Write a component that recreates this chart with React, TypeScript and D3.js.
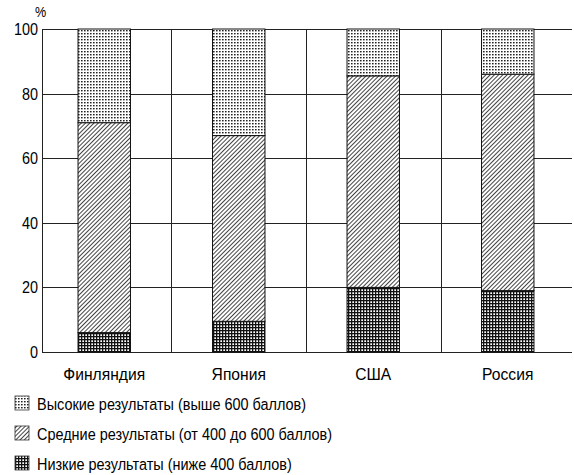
import React, { useEffect, useRef } from "react";
import * as d3 from "d3";

const countries = ["Финляндия", "Япония", "США", "Россия"];
const lowValues = [6, 9.5, 20, 19];
const midValues = [65, 57.5, 65.5, 67];
const highValues = [29, 33, 14.5, 14];
const yTicks = [0, 20, 40, 60, 80, 100];
const legendLabels = [
  "Высокие результаты (выше 600 баллов)",
  "Средние результаты (от 400 до 600 баллов)",
  "Низкие результаты (ниже 400 баллов)",
];

const FONT = "'Liberation Sans', Arial, sans-serif";

const App = () => {
  const ref = useRef<SVGSVGElement | null>(null);

  useEffect(() => {
    if (!ref.current) return;
    const svg = d3.select(ref.current);
    svg.selectAll("*").remove();
    const axisX = 42;
    const plotRight = 572;

    const x = d3.scaleBand().domain(countries).range([37, 575]).paddingInner(0.61).paddingOuter(0.305);
    const step = x.step();
    const y = d3.scaleLinear().domain([0, 100]).range([352, 29]);

    // patterns
    const defs = svg.append("defs");
    const pHigh = defs.append("pattern").attr("id", "pHigh").attr("patternUnits", "userSpaceOnUse").attr("width", 3).attr("height", 3);
    pHigh.append("rect").attr("width", 3).attr("height", 3).attr("fill", "#fff");
    pHigh.append("rect").attr("width", 1.6).attr("height", 1.4).attr("fill", "#222");

    const pMid = defs.append("pattern").attr("id", "pMid").attr("patternUnits", "userSpaceOnUse").attr("width", 3).attr("height", 3).attr("patternTransform", "rotate(45)");
    pMid.append("rect").attr("width", 3).attr("height", 3).attr("fill", "#fff");
    pMid.append("rect").attr("width", 1).attr("height", 3).attr("fill", "#444");

    const pLow = defs.append("pattern").attr("id", "pLow").attr("patternUnits", "userSpaceOnUse").attr("width", 3).attr("height", 3);
    pLow.append("rect").attr("width", 3).attr("height", 3).attr("fill", "#fff");
    pLow.append("rect").attr("width", 3).attr("height", 1.3).attr("fill", "#111");
    pLow.append("rect").attr("width", 1.3).attr("height", 3).attr("fill", "#111");

    // grid
    const grid = svg.append("g").attr("stroke", "#222").attr("stroke-width", 1);
    grid.selectAll("line.h").data(yTicks).join("line")
      .attr("x1", axisX).attr("x2", plotRight)
      .attr("y1", (d) => Math.round(y(d)) + 0.5).attr("y2", (d) => Math.round(y(d)) + 0.5);
    grid.selectAll("line.v").data(countries.slice(1)).join("line")
      .attr("x1", (d) => Math.round((x(d) as number) - (step - x.bandwidth()) / 2) + 0.5)
      .attr("x2", (d) => Math.round((x(d) as number) - (step - x.bandwidth()) / 2) + 0.5)
      .attr("y1", y(100)).attr("y2", y(0));
    grid.append("line").attr("x1", axisX + 0.5).attr("x2", axisX + 0.5).attr("y1", y(100)).attr("y2", y(0));

    // bars
    const stackData = countries.map((c, i) => ({ c, low: lowValues[i], mid: midValues[i], high: highValues[i] }));
    const stack = d3.stack<any>().keys(["low", "mid", "high"])(stackData);
    const fills: Record<string, string> = { low: "url(#pLow)", mid: "url(#pMid)", high: "url(#pHigh)" };
    svg.append("g").selectAll("g").data(stack).join("g")
      .attr("fill", (s) => fills[s.key])
      .selectAll("rect").data((s) => s).join("rect")
      .attr("x", (d: any) => x(d.data.c) as number)
      .attr("width", x.bandwidth())
      .attr("y", (d) => y(d[1]))
      .attr("height", (d) => y(d[0]) - y(d[1]))
      .attr("stroke", "#111").attr("stroke-width", 1);

    // y labels
    svg.append("g").selectAll("text").data(yTicks).join("text")
      .attr("transform", (d) => `translate(${axisX - 4},${y(d) + 6}) scale(0.9,1)`)
      .attr("text-anchor", "end").attr("font-family", FONT).attr("font-size", 16)
      .text((d) => d);
    svg.append("text").attr("transform", "translate(35,17) scale(0.9,1)")
      .attr("font-family", FONT).attr("font-size", 14).text("%");

    // x labels
    svg.append("g").selectAll("text").data(countries).join("text")
      .attr("transform", (d) => `translate(${(x(d) as number) + x.bandwidth() / 2},380) scale(0.92,1)`)
      .attr("text-anchor", "middle").attr("font-family", FONT).attr("font-size", 17)
      .text((d) => d);

    // legend
    const legendFills = ["url(#pHigh)", "url(#pMid)", "url(#pLow)"];
    const lg = svg.append("g").selectAll("g").data(legendLabels).join("g")
      .attr("transform", (_d, i) => `translate(15,${410 + i * 30})`);
    lg.append("rect").attr("y", -14).attr("width", 14).attr("height", 14)
      .attr("fill", (_d, i) => legendFills[i]).attr("stroke", "#333").attr("stroke-width", 0.8);
    lg.append("text").attr("transform", "translate(22,0) scale(0.85,1)")
      .attr("font-family", FONT).attr("font-size", 17)
      .text((d) => d);
  }, []);

  return (
    <div style={{ position: "absolute", left: 0, top: 0, background: "#fff" }}>
      <svg ref={ref} width={574} height={475} style={{ display: "block" }}></svg>
    </div>
  );
};

export default App;
